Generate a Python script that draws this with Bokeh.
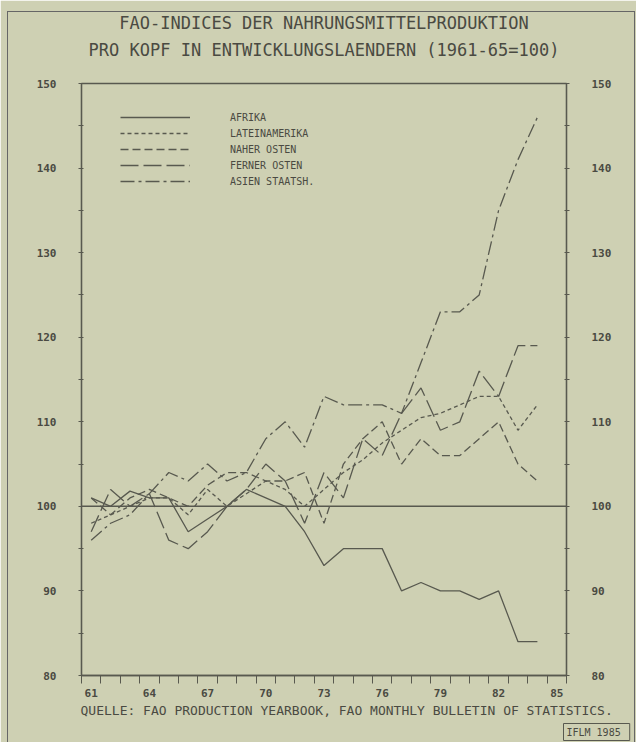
from bokeh.plotting import figure
from bokeh.models import FixedTicker, LinearAxis, Range1d, Span, Legend, LegendItem, Title
from bokeh.embed import file_html
from bokeh.resources import INLINE

# ---- data (years 1961-1984, index 1961-65 = 100) ----
years = list(range(61, 85))
afrika = [101, 100, 101.8, 101, 101, 97, 98.5, 100, 102, 101, 100, 97, 93, 95, 95, 95,
          90, 91, 90, 90, 89, 90, 84, 84]
lateinamerika = [98, 99, 100, 101, 101, 99, 102, 100, 101.5, 103, 102, 100, 102, 104, 105.5, 107.5,
                 109, 110.5, 111, 112, 113, 113, 109, 112]
naher_osten = [101, 99, 101, 102, 101, 100, 102.5, 104, 104, 103, 103, 104, 98, 105, 108, 110,
               105, 108, 106, 106, 108, 110, 105, 103]
ferner_osten = [97, 102, 100, 101.5, 96, 95, 97, 100, 102, 105, 103, 98, 104, 101, 108, 106,
                111, 114, 109, 110, 116, 113, 119, 119]
asien_staatsh = [96, 98, 99, 101.5, 104, 103, 105, 103, 104, 108, 110, 107, 113, 112, 112, 112,
                 111, 117, 123, 123, 125, 135, 141, 146]

series_names = ["AFRIKA", "LATEINAMERIKA", "NAHER OSTEN", "FERNER OSTEN", "ASIEN STAATSH."]
series_vals = [afrika, lateinamerika, naher_osten, ferner_osten, asien_staatsh]
series_dash = ["solid", "4 3", "8 4", "18 5", "14 4 3 4"]

x_labels = [61, 64, 67, 70, 73, 76, 79, 82, 85]
y_labels = [80, 90, 100, 110, 120, 130, 140, 150]

BG = "#ced0b3"
INK = "#58594f"
TXT = "#4a4a42"

p = figure(width=636, height=742, x_range=Range1d(60.5, 85.5), y_range=Range1d(80, 150),
           output_backend="svg", toolbar_location=None,
           min_border_left=81, min_border_right=70, min_border_top=83, min_border_bottom=64)
p.background_fill_color = BG
p.border_fill_color = BG
p.outline_line_color = INK
p.outline_line_width = 1.3
p.grid.visible = False

# title: built-in title is the outer (first) line; a small spacer sits next to the frame,
# the second title line between them
p.title.text = "FAO-INDICES DER NAHRUNGSMITTELPRODUKTION"
p.title.align = "center"
p.title.text_font = "DejaVu Sans Mono"
p.title.text_font_size = "17px"
p.title.text_font_style = "normal"
p.title.text_color = TXT
p.title.standoff = 5

spacer = Title(text="\u00a0", align="center", text_font="DejaVu Sans Mono",
               text_font_size="1px", text_color=BG, standoff=18)
p.add_layout(spacer, "above")

t2 = Title(text="PRO KOPF IN ENTWICKLUNGSLAENDERN (1961-65=100)", align="center",
           text_font="DejaVu Sans Mono", text_font_size="17px", text_font_style="normal",
           text_color=TXT, standoff=5)
p.add_layout(t2, "above")

# bottom axis
xa = p.xaxis[0]
xa.ticker = FixedTicker(ticks=x_labels, minor_ticks=[60.5 + i for i in range(26)])
xa.major_tick_in = 0
xa.major_tick_out = 0
xa.minor_tick_in = 0
xa.minor_tick_out = 8
xa.minor_tick_line_color = INK
xa.axis_line_color = INK
xa.axis_line_width = 1.3
xa.major_label_standoff = 5
xa.major_label_text_font = "DejaVu Sans Mono"
xa.major_label_text_font_size = "11px"
xa.major_label_text_font_style = "bold"
xa.major_label_text_color = TXT


def style_y(ax):
    ax.ticker = FixedTicker(ticks=y_labels, minor_ticks=[85 + 10 * i for i in range(7)])
    ax.major_tick_in = 2
    ax.major_tick_out = 3
    ax.minor_tick_in = 2
    ax.minor_tick_out = 3
    ax.major_tick_line_color = INK
    ax.minor_tick_line_color = INK
    ax.axis_line_color = INK
    ax.axis_line_width = 1.3
    ax.major_label_standoff = 22
    ax.major_label_text_font = "DejaVu Sans Mono"
    ax.major_label_text_font_size = "11px"
    ax.major_label_text_font_style = "bold"
    ax.major_label_text_color = TXT


style_y(p.yaxis[0])
ra = LinearAxis()
style_y(ra)
p.add_layout(ra, "right")

p.add_layout(Span(location=100, dimension="width", line_color=INK, line_width=1.5))

items = []
for name, vals, dash in zip(series_names, series_vals, series_dash):
    r = p.line(years, vals, line_color=INK, line_width=1.3, line_dash=dash)
    items.append(LegendItem(label=name, renderers=[r]))

leg = Legend(items=items, location=(39, 488), orientation="vertical")
leg.background_fill_alpha = 0
leg.border_line_alpha = 0
leg.glyph_width = 70
leg.glyph_height = 12
leg.label_height = 12
leg.spacing = 4
leg.label_standoff = 40
leg.padding = 0
leg.margin = 0
leg.label_text_font = "DejaVu Sans Mono"
leg.label_text_font_size = "10px"
leg.label_text_color = TXT
p.add_layout(leg)

src = Title(text="QUELLE: FAO PRODUCTION YEARBOOK, FAO MONTHLY BULLETIN OF STATISTICS.",
            align="left", text_font="DejaVu Sans Mono", text_font_size="13px",
            text_font_style="normal", text_color=TXT, standoff=3, offset=-1)
p.add_layout(src, "below")

iflm = Title(text="IFLM  1985", align="left", offset=482, text_font="DejaVu Sans Mono",
             text_font_size="10px", text_font_style="normal", text_color=TXT, standoff=4)
iflm.border_line_color = INK
iflm.padding = 3
p.add_layout(iflm, "below")

html = file_html(p, INLINE)
i = html.rfind("</body>")
html = (html[:i] + '<div style="position:absolute;left:7px;top:11px;width:626px;height:740px;'
        'border-left:1px solid #666;border-top:1px solid #666;border-right:1px solid #666;'
        'z-index:10;pointer-events:none"></div>' + html[i:])
open("out.html", "w").write(html)
